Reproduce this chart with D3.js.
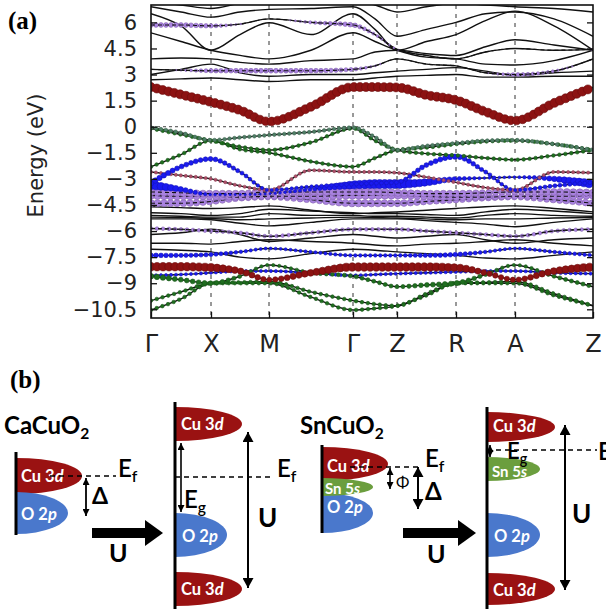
<!DOCTYPE html>
<html><head><meta charset="utf-8">
<script src="https://cdn.jsdelivr.net/npm/d3@7"></script>
<style>body{margin:0;background:#fff}svg{display:block}</style>
</head><body>
<svg id="c" width="606" height="609"></svg>
<script>
// ---------- DATA ----------
const kLabels = ["Γ","X","M","Γ","Z","R","A","Z"];
const kTicks = [0, 0.60, 1.18, 2.02, 2.46, 3.05, 3.64, 4.42];
const yTicks = [6, 4.5, 3, 1.5, 0, -1.5, -3, -4.5, -6, -7.5, -9, -10.5];
const yTickLabels = ["6","4.5","3","1.5","0","\u22121.5","\u22123","\u22124.5","\u22126","\u22127.5","\u22129","\u221210.5"];
// band energies (eV) at Γ, ½, X, ½, M, ½, Γ, ½, Z, ½, R, ½, A, ½, Z
const bandU0 = [7.2, 7.0, 6.8, 7.1, 7.3, 7.1, 7.2, 7.0, 6.6, 6.9, 7.1, 7.0, 6.9, 6.8, 6.6];
const bandU1 = [6.9, 6.6, 6.3, 6.6, 6.75, 6.8, 6.9, 6.2, 5.2, 5.6, 6.0, 6.5, 6.6, 6.2, 5.2];
const bandU2 = [6.5, 5.8, 4.4, 5.3, 5.98, 5.3, 6.5, 5.6, 4.4, 4.9, 5.3, 6.1, 6.65, 5.8, 4.4];
const bandU3 = [5.85, 5.85, 5.8, 5.9, 6.2, 6.0, 5.85, 5.3, 4.45, 4.1, 3.9, 4.3, 4.5, 4.4, 4.45];
const bandU4 = [5.4, 4.9, 4.4, 4.1, 3.9, 4.4, 5.4, 4.9, 4.4, 4.0, 3.9, 3.6, 3.55, 3.8, 4.4];
const bandU5 = [3.9, 3.95, 3.9, 3.7, 3.6, 3.8, 3.9, 4.3, 4.4, 4.2, 4.1, 4.6, 5.0, 4.7, 4.4];
const bandU6 = [3.3, 3.25, 3.22, 3.22, 3.22, 3.22, 3.3, 3.5, 3.9, 3.6, 3.5, 3.1, 3.0, 3.2, 3.9];
const bandU7 = [3.0, 3.3, 3.6, 3.1, 2.9, 3.0, 3.0, 3.1, 3.2, 3.3, 3.4, 3.2, 2.95, 3.1, 3.2];
const bandU8 = [2.7, 2.75, 2.8, 2.7, 2.6, 2.7, 2.7, 2.8, 2.9, 2.95, 3.0, 2.85, 2.85, 2.9, 2.9];
const bandCu = [2.28, 1.85, 1.42, 0.95, 0.3, 1.15, 2.28, 2.28, 2.26, 1.82, 1.53, 0.86, 0.35, 1.36, 2.26];
const bandG1 = [-0.05, -0.35, -0.77, -0.62, -0.48, -0.3, -0.05, -0.6, -1.34, -1.1, -0.95, -0.8, -0.77, -1.0, -1.34];
const bandG2 = [-0.1, -0.45, -0.8, -1.15, -1.34, -0.9, -0.1, -0.8, -1.34, -1.55, -1.65, -1.8, -1.9, -1.65, -1.34];
const bandG3 = [-2.3, -1.6, -0.8, -1.3, -1.5, -2.0, -2.3, -1.8, -1.34, -1.2, -1.0, -0.85, -0.8, -1.0, -1.34];
const bandB1 = [-3.25, -2.3, -1.85, -2.6, -3.64, -3.45, -3.3, -3.25, -3.2, -2.2, -1.72, -2.6, -3.64, -3.4, -3.2];
const bandP1 = [-2.6, -2.8, -3.0, -3.4, -3.64, -2.5, -2.6, -2.6, -2.65, -2.9, -3.2, -3.5, -3.64, -2.6, -2.65];
const bandB2 = [-3.35, -3.6, -3.9, -3.9, -3.85, -3.6, -3.35, -3.3, -3.3, -3.2, -3.0, -2.95, -2.9, -3.0, -3.3];
const bandV1 = [-3.75, -3.8, -3.85, -3.85, -3.75, -3.75, -3.75, -3.75, -3.8, -3.85, -3.85, -3.8, -3.75, -3.75, -3.8];
const bandV2 = [-3.95, -4.0, -4.0, -4.05, -4.0, -4.0, -3.95, -3.95, -3.95, -4.0, -4.05, -4.05, -4.0, -4.0, -3.95];
const bandV3 = [-4.4, -4.4, -4.3, -4.1, -4.05, -4.2, -4.4, -4.4, -4.4, -4.3, -4.2, -4.1, -4.05, -4.2, -4.4];
const bandK4 = [-4.6, -4.65, -4.7, -4.65, -4.55, -4.8, -5.0, -4.95, -4.9, -4.8, -4.7, -4.6, -4.55, -4.7, -4.9];
const bandK1 = [-4.95, -5.0, -5.1, -5.0, -4.75, -4.85, -4.95, -5.0, -5.0, -5.05, -5.1, -4.9, -4.75, -4.85, -5.0];
const bandK2 = [-5.1, -5.15, -5.2, -5.2, -5.0, -5.1, -5.1, -5.15, -5.15, -5.2, -5.25, -5.1, -5.0, -5.1, -5.15];
const bandK5 = [-5.2, -5.22, -5.28, -5.35, -5.3, -5.25, -5.2, -5.22, -5.25, -5.3, -5.35, -5.3, -5.3, -5.25, -5.22];
const bandK3 = [-5.3, -5.3, -5.35, -5.55, -5.7, -5.5, -5.3, -5.3, -5.3, -5.4, -5.5, -5.6, -5.75, -5.5, -5.3];
const bandL1 = [-5.85, -5.9, -6.0, -6.1, -6.3, -6.1, -5.9, -5.9, -5.9, -6.0, -6.1, -6.2, -6.3, -6.0, -5.9];
const bandL2 = [-6.2, -6.1, -5.9, -6.2, -6.6, -6.4, -6.2, -6.3, -6.4, -6.3, -6.2, -6.5, -6.7, -6.5, -6.4];
const bandL3 = [-6.7, -6.7, -6.75, -6.6, -6.5, -6.6, -6.7, -6.8, -6.85, -6.75, -6.7, -6.6, -6.5, -6.7, -6.85];
const bandL5 = [-7.05, -7.1, -7.2, -7.5, -7.6, -7.3, -7.05, -7.1, -7.2, -7.3, -7.4, -7.55, -7.6, -7.4, -7.2];
const bandL4 = [-7.4, -7.4, -7.35, -7.2, -7.0, -7.2, -7.4, -7.4, -7.4, -7.4, -7.35, -7.2, -7.0, -7.2, -7.4];
const bandRL = [-8.05, -8.05, -8.1, -8.3, -8.8, -8.4, -8.07, -8.07, -8.07, -8.07, -8.1, -8.4, -8.8, -8.3, -8.07];
const bandL6 = [-8.55, -8.5, -8.4, -8.3, -8.3, -8.4, -8.55, -8.5, -8.45, -8.4, -8.35, -8.3, -8.3, -8.4, -8.45];
const bandGL0 = [-8.6, -8.8, -9.0, -8.6, -7.95, -8.4, -8.6, -8.9, -9.2, -9.1, -9.0, -8.5, -7.95, -8.6, -9.2];
const bandGL1 = [-10.0, -9.5, -9.0, -8.95, -8.9, -9.5, -10.0, -10.2, -10.3, -9.6, -9.0, -8.95, -8.9, -9.6, -10.3];
const bandGL2 = [-10.54, -9.9, -9.0, -9.0, -9.0, -9.8, -10.54, -10.45, -10.3, -9.7, -9.0, -9.0, -9.0, -9.7, -10.3];
// orbital weights (0..1) at the same k points
const wCu = [1,1,1,1,0.95,1,1,1,1,1,1,1,0.95,1,1];
const wRL = [1, 1, 0.95, 0.75, 0.6, 0.8, 1, 1, 1, 1, 0.9, 0.65, 0.6, 0.8, 1];
const wB2 = [1, 0.6, 0.3, 0.25, 0.25, 0.4, 0.9, 1, 1, 0.8, 0.5, 0.3, 0.3, 0.6, 1];
const wB1 = [0.7, 0.6, 0.6, 0.5, 0.4, 0.45, 0.5, 0.5, 0.5, 0.6, 0.65, 0.5, 0.4, 0.5, 0.5];
const wU3 = [0.6, 0.6, 0.55, 0.2, 0, 0.4, 0.6, 0.35, 0.2, 0, 0, 0, 0, 0, 0.2];
const wU6 = [0, 0.25, 0.55, 0.6, 0.6, 0.6, 0.5, 0.25, 0, 0, 0, 0.15, 0.5, 0.35, 0];
const wV = [0.85, 0.8, 0.75, 0.75, 0.65, 0.75, 0.85, 0.85, 0.8, 0.75, 0.75, 0.7, 0.65, 0.75, 0.8];
const wSmall = [0.45,0.45,0.45,0.45,0.45,0.45,0.45,0.45,0.45,0.45,0.45,0.45,0.45,0.45,0.45];

// ---------- STYLES ----------
const RED = "#8c1212", GRN = "#1f6e1f", GGR = "#4f7f66", BLU = "#1a1af0", VIO = "#a982e0", PNK = "#b0506a";
// [values, weights, colour, max diameter, spacing, line over dots]
const bands = [
  [bandU0],[bandU1],[bandU2],[bandU3,wU3,VIO,8,5,true],[bandU4],[bandU5],
  [bandU6,wU6,VIO,8,5,true],[bandU7],[bandU8],
  [bandK4],[bandK1],[bandK2],[bandK5],[bandK3],
  [bandL2],[bandL3],[bandL5],[bandL1,wSmall,VIO,8,6,true],
  [bandV3,wV,VIO,8.5,6.5,true],[bandV2,wV,VIO,9,6.5,true],[bandV1,wV,VIO,9,6.5,true],
  [bandB2,wB2,BLU,9,5,false],[bandP1,wSmall,PNK,7,5,false],[bandB1,wB1,BLU,8,5,false],
  [bandG3,wSmall,GRN,8,6,false],[bandG2,wSmall,GRN,8,6,false],[bandG1,wSmall,GGR,8,5,false],
  [bandL4,wB1,BLU,7,5,false],[bandL6,wSmall,BLU,7,5,false],
  [bandGL2,wSmall,GRN,8,6,false],[bandGL1,wSmall,GRN,8,6,false],[bandGL0,wB1,GRN,8,6,false],
  [bandRL,wRL,RED,8.5,6,false],[bandCu,wCu,RED,9,6,false]
];

const svg = d3.select("#c");
const L = 151, R = 593, T = 5, B = 318;
const x = d3.scaleLinear().domain([0, kTicks[kTicks.length-1]]).range([L, R]);
const y = d3.scaleLinear().domain([-11, 7]).range([B, T]);
const kSample = [];
kTicks.forEach((k,i)=>{ kSample.push(k); if(i<kTicks.length-1) kSample.push((k+kTicks[i+1])/2); });

svg.append("clipPath").attr("id","clip").append("rect").attr("x",L).attr("y",T).attr("width",R-L).attr("height",B-T);
const plot = svg.append("g").attr("clip-path","url(#clip)");

plot.selectAll(".vg").data(kTicks.slice(1,-1)).join("line")
  .attr("x1",d=>x(d)).attr("x2",d=>x(d)).attr("y1",T).attr("y2",B)
  .attr("stroke","#333").attr("stroke-width",1).attr("stroke-dasharray","4,5");
plot.append("line").attr("x1",L).attr("x2",R).attr("y1",y(0)).attr("y2",y(0))
  .attr("stroke","#444").attr("stroke-width",1).attr("stroke-dasharray","3,3");

const line = d3.line().x((d,i)=>x(kSample[i])).y(d=>y(d)).curve(d3.curveMonotoneX);
const drawLine = (vals,g)=> g.append("path").attr("d",line(vals)).attr("fill","none").attr("stroke","#111").attr("stroke-width",1.4);
bands.forEach(b=>drawLine(b[0],plot));
bands.forEach(b=>{
  const [vals,w,col,dmax,gap,over] = b;
  if(!w) return;
  const wS = d3.scaleLinear().domain(kSample).range(w);
  const p = drawLine(vals,plot).attr("stroke","none");
  const node = p.node(), len = node.getTotalLength();
  const pts = [];
  for(let s=0; s<=len; s+=gap){ const q = node.getPointAtLength(s); const r = dmax/2*wS(x.invert(q.x)); if(r>0.7) pts.push([q.x,q.y,r]); }
  p.remove();
  plot.append("g").selectAll("circle").data(pts).join("circle")
    .attr("cx",d=>d[0]).attr("cy",d=>d[1]).attr("r",d=>d[2])
    .attr("fill",col).attr("stroke",d3.color(col).darker(0.7)).attr("stroke-width",0.6);
  if(over) drawLine(vals,plot).attr("stroke-width",1.1).attr("stroke-dasharray","4,3");
});

// axes
const fontAx = "DejaVu Sans";
const ax = svg.append("g").attr("transform",`translate(${L},0)`)
  .call(d3.axisLeft(y).tickValues(yTicks).tickSize(-6).tickPadding(14).tickFormat((d,i)=>yTickLabels[i]));
ax.select(".domain").remove();
ax.selectAll("text").attr("font-family",fontAx).attr("font-size",21).attr("fill","#222");
ax.selectAll("line").attr("stroke","#111").attr("stroke-width",1.3);
const axr = svg.append("g").attr("transform",`translate(${R},0)`)
  .call(d3.axisRight(y).tickValues(yTicks).tickSize(-6).tickFormat(""));
axr.select(".domain").remove();
axr.selectAll("line").attr("stroke","#111").attr("stroke-width",1.3);
const axb = svg.append("g").attr("transform",`translate(0,${B})`)
  .call(d3.axisBottom(x).tickValues(kTicks).tickSize(-6).tickPadding(17).tickFormat((d,i)=>kLabels[i]));
axb.select(".domain").remove();
axb.selectAll("text").attr("font-family",fontAx).attr("font-size",24).attr("fill","#222");
axb.selectAll("line").attr("stroke","#111").attr("stroke-width",1.3);

svg.append("rect").attr("x",L).attr("y",T).attr("width",R-L).attr("height",B-T)
  .attr("fill","none").attr("stroke","#111").attr("stroke-width",1.6);

svg.append("text").attr("transform",`translate(43,${(T+B)/2-6}) rotate(-90)`).attr("text-anchor","middle")
  .attr("font-family",fontAx).attr("font-size",21).attr("fill","#222").text("Energy (eV)");
svg.append("text").attr("x",8).attr("y",29).attr("font-family","Liberation Serif").attr("font-weight","bold")
  .attr("font-size",25).text("(a)");

// ---------- PANEL (b) schematic ----------
const F = "Lato";
const C_RED = "#9a1212", C_BLU = "#4a78cc", C_GRN = "#6b9e3e";
svg.append("text").attr("x",10).attr("y",388).attr("font-family","Liberation Serif").attr("font-weight","bold")
  .attr("font-size",25).text("(b)");
const defs = svg.append("defs");
function mk(id,w,h){
  defs.append("marker").attr("id",id).attr("viewBox",`0 0 ${w} ${h}`).attr("refX",w).attr("refY",h/2)
    .attr("markerWidth",w).attr("markerHeight",h).attr("markerUnits","userSpaceOnUse").attr("orient","auto-start-reverse")
    .append("path").attr("d",`M0,0L${w},${h/2}L0,${h}Z`).attr("fill","#000");
}
mk("ahS",7,7); mk("ahL",10,11);
function lobe(x0,cy,rx,ry,col){
  svg.append("path").attr("d",`M${x0},${cy-ry}A${rx},${ry} 0 0 1 ${x0},${cy+ry}Z`).attr("fill",col);
}
function orb(xp,yp,a,b,size){
  const t = svg.append("text").attr("x",xp).attr("y",yp).attr("font-family",F).attr("font-weight",700)
    .attr("font-size",size||16.5).attr("fill","#fff");
  t.append("tspan").text(a); t.append("tspan").attr("font-style","italic").text(b);
}
function vline(x0,y1,y2,w){ svg.append("line").attr("x1",x0).attr("x2",x0).attr("y1",y1).attr("y2",y2).attr("stroke","#000").attr("stroke-width",w||3); }
function dash(x1,x2,yy){ svg.append("line").attr("x1",x1).attr("x2",x2).attr("y1",yy).attr("y2",yy).attr("stroke","#000").attr("stroke-width",1.6).attr("stroke-dasharray","5,4"); }
function darrow(x0,y1,y2,m,w){ svg.append("line").attr("x1",x0).attr("x2",x0).attr("y1",y1).attr("y2",y2).attr("stroke","#000")
  .attr("stroke-width",w||1.8).attr("marker-start",`url(#${m})`).attr("marker-end",`url(#${m})`); }
function sub(xp,yp,main,s,size,weight){
  const t = svg.append("text").attr("x",xp).attr("y",yp).attr("font-family",F).attr("font-size",size).attr("font-weight",weight||700).attr("fill","#000");
  t.append("tspan").text(main);
  t.append("tspan").attr("font-size",size*0.65).attr("dy",size*0.22).text(s);
  return t;
}
function bigArrow(x1,x2,yy){
  svg.append("line").attr("x1",x1).attr("x2",x2-14).attr("y1",yy).attr("y2",yy).attr("stroke","#000").attr("stroke-width",10);
  svg.append("path").attr("d",`M${x2-18},${yy-13}L${x2},${yy}L${x2-18},${yy+13}Z`).attr("fill","#000");
}
function txt(xp,yp,s,size,weight){ svg.append("text").attr("x",xp).attr("y",yp).attr("font-family",F).attr("font-size",size)
  .attr("font-weight",weight||700).attr("fill","#000").text(s); }

// S1 CaCuO2
sub(4,434,"CaCuO","2",24);
lobe(16,476,66,18,C_RED); lobe(16,513,52,21,C_BLU);
vline(16,452,535);
orb(21,482,"Cu 3","d"); orb(21,520,"O 2","p");
dash(50,116,476);
sub(118,477,"E","f",24,600);
darrow(86,478,516,"ahS");
txt(92,504,"Δ",23);
bigArrow(92,163,533);
txt(109,562,"U",25);

// S2
lobe(175,424,67,17,C_RED); lobe(175,535,52,22,C_BLU); lobe(175,589,67,17,C_RED);
vline(175,402,609,3);
orb(181,430,"Cu 3","d"); orb(182,542,"O 2","p"); orb(181,595,"Cu 3","d");
darrow(181,443,512,"ahS",1.6);
sub(184,508,"E","g",24,600);
dash(175,271,477);
sub(277,477,"E","f",24,600);
darrow(248,432,588,"ahL",2);
txt(258,527,"U",26);

// S3 SnCuO2
sub(300,434,"SnCuO","2",24);
lobe(322,464,66,17,C_RED); lobe(322,513,51,20,C_BLU); lobe(322,487,51,9,C_GRN);
vline(322,445,533);
orb(327,472,"Cu 3","d"); orb(325,494,"Sn 5","s",15); orb(327,513,"O 2","p");
dash(350,420,467);
darrow(390,468,489,"ahS",1.6);
txt(396,488,"Φ",16,400);
darrow(418,467,509,"ahL",2);
txt(425,500,"Δ",24);
sub(425,467,"E","f",24,600);
bigArrow(403,476,533);
txt(427,563,"U",25);

// S4
lobe(487,427,68,15,C_RED); lobe(487,535,53,22,C_BLU); lobe(487,469,53,12,C_GRN); lobe(487,589,68,16,C_RED);
vline(487,407,609,3);
orb(493,432,"Cu 3","d"); orb(492,477,"Sn 5","s",15); orb(494,542,"O 2","p"); orb(493,596,"Cu 3","d");
darrow(490,445,457,"ahS",1.6);
sub(507,459,"E","g",22,600);
dash(487,597,450);
sub(598,460,"E","f",24,600);
darrow(565,425,590,"ahL",2);
txt(572,523,"U",26);
</script>
</body></html>
